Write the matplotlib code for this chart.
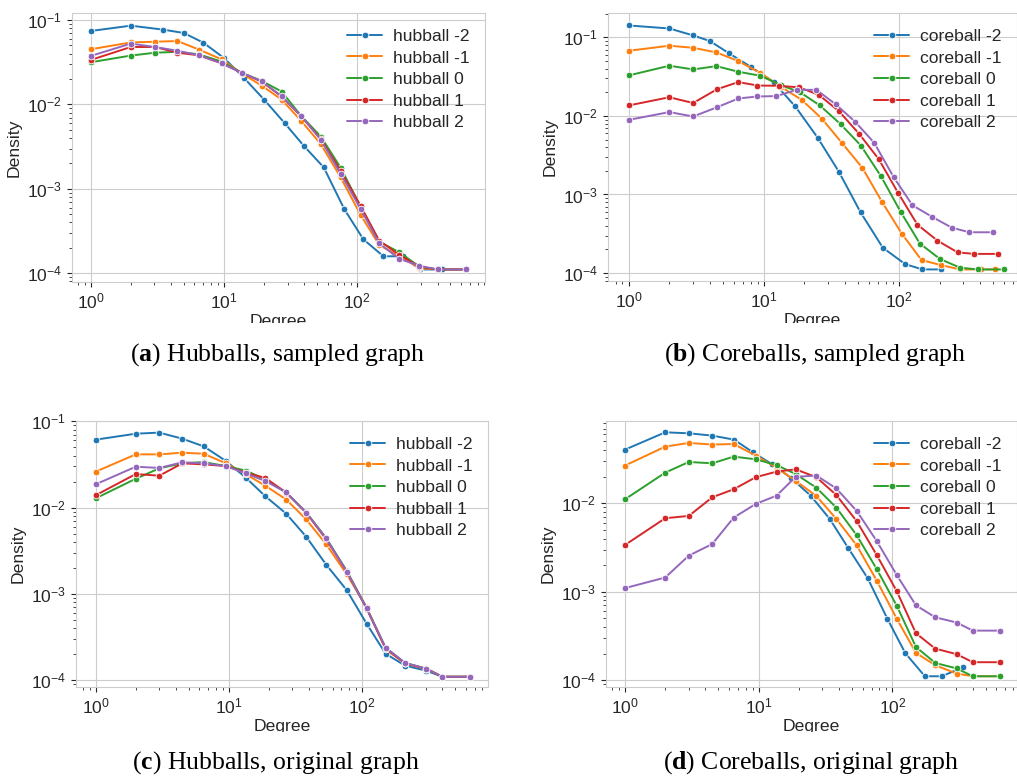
import numpy as np
import matplotlib
matplotlib.use("Agg")
import matplotlib.pyplot as plt
import seaborn as sns
from matplotlib.patches import Rectangle

sns.set_style("whitegrid")
plt.rcParams['font.family'] = ['Liberation Sans', 'DejaVu Sans']
plt.rcParams['mathtext.fontset'] = 'custom'
plt.rcParams['mathtext.rm'] = 'Liberation Serif'
plt.rcParams['mathtext.bf'] = 'Liberation Serif:bold'

# ---- data ----
levels = ["-2", "-1", "0", "1", "2"]

# (a) hubballs, sampled graph
a_x_m2 = [1, 2, 3.5, 5, 7, 10, 14.1, 20, 28.5, 40, 56, 80, 111, 157, 222, 294, 429]
a_y_m2 = [0.0741, 0.0857, 0.0769, 0.0702, 0.0539, 0.0355, 0.0207, 0.0114, 0.00602, 0.00319,
          0.00180, 0.000573, 0.000253, 0.000159, 0.000159, 0.000111, 0.000111]
a_x = [1, 2, 3.04, 4.47, 6.5, 9.6, 13.7, 19.2, 27.1, 37.8, 53.4, 75, 106, 146, 207, 292, 400, 653]
a_y_m1 = [0.0450, 0.0543, 0.0553, 0.0564, 0.0446, 0.0342, 0.0231, 0.0167, 0.0114, 0.00643,
          0.00337, 0.00137, 0.000491, 0.000216, 0.000160, 0.000115, 0.000111, 0.000111]
a_y_0 = [0.0316, 0.0379, 0.0410, 0.0420, 0.0392, 0.0321, 0.0236, 0.0190, 0.0142, 0.00736,
         0.00415, 0.00178, 0.000615, 0.000237, 0.000177, 0.000120, 0.000111, 0.000111]
a_y_1 = [0.0336, 0.0479, 0.0479, 0.0410, 0.0382, 0.0307, 0.0236, 0.0186, 0.0124, 0.00729,
         0.00387, 0.00164, 0.000627, 0.000244, 0.000165, 0.000120, 0.000111, 0.000111]
a_y_2 = [0.0375, 0.0525, 0.0479, 0.0433, 0.0382, 0.0307, 0.0236, 0.0188, 0.0125, 0.00736,
         0.00379, 0.00151, 0.000578, 0.000226, 0.000148, 0.000123, 0.000111, 0.000111]

# (b) coreballs, sampled graph
b_x_m2 = [1, 2, 3, 4, 5.5, 8, 11.8, 17.1, 25, 36, 52, 76, 111, 149, 205]
b_y_m2 = [0.142, 0.130, 0.106, 0.0898, 0.0631, 0.0423, 0.027, 0.0132, 0.00531, 0.00194,
          0.000593, 0.000210, 0.000130, 0.000111, 0.000111]
b_x_m1 = [1, 2, 3, 4.46, 6.49, 9.45, 13.5, 19.1, 27, 38, 53.5, 75.3, 105, 147, 205, 283, 407, 517]
b_y_m1 = [0.0676, 0.0784, 0.0738, 0.0644, 0.0499, 0.0351, 0.0233, 0.0160, 0.00918, 0.00450,
          0.00220, 0.000796, 0.000317, 0.000146, 0.000126, 0.000111, 0.000111, 0.000111]
b_x_0 = [1, 2, 3, 4.46, 6.49, 9.45, 13.3, 18.5, 26, 37, 52.3, 73.6, 103.5, 143, 201, 283, 383, 603]
b_y_0 = [0.0328, 0.0436, 0.0391, 0.0431, 0.0365, 0.0325, 0.0247, 0.0201, 0.0136, 0.00785,
         0.00420, 0.00171, 0.000593, 0.000237, 0.000151, 0.000117, 0.000111, 0.000111]
b_x_1 = [1, 2, 3, 4.51, 6.49, 8.98, 13, 18.3, 25.5, 36, 50.8, 71, 98.9, 137, 193, 272, 361, 544]
b_y_1 = [0.0136, 0.0173, 0.0146, 0.0219, 0.0270, 0.0244, 0.0242, 0.0231, 0.0186, 0.0115,
         0.00591, 0.00281, 0.00104, 0.000413, 0.000258, 0.000183, 0.000175, 0.000175]
b_x_2 = [1, 2, 3, 4.51, 6.49, 8.98, 12.4, 17.5, 24.5, 34, 47.5, 65.7, 91.3, 126, 177, 246, 332, 500]
b_y_2 = [0.00891, 0.0112, 0.00984, 0.0129, 0.0167, 0.0177, 0.0179, 0.0215, 0.0215, 0.0141,
         0.00841, 0.00454, 0.00167, 0.000728, 0.000516, 0.000378, 0.000330, 0.000330]

# (c) hubballs, original graph
c_x = [1, 2, 3, 4.47, 6.46, 9.5, 13.4, 18.8, 26.9, 38, 53.7, 76.7, 108, 150, 210, 304, 400, 642]
c_y_m2 = [0.0613, 0.0719, 0.0740, 0.0629, 0.0513, 0.0347, 0.0222, 0.0135, 0.00850, 0.00460,
          0.00218, 0.00110, 0.000451, 0.000202, 0.000147, 0.000128, 0.000109, 0.000109]
c_y_m1 = [0.0261, 0.0414, 0.0414, 0.0433, 0.0421, 0.0326, 0.0243, 0.0179, 0.0124, 0.00731,
          0.00375, 0.00168, 0.000697, 0.000227, 0.000156, 0.000134, 0.000109, 0.000109]
c_y_0 = [0.0128, 0.0216, 0.0285, 0.0326, 0.0337, 0.0303, 0.0268, 0.0212, 0.0150, 0.00881,
         0.00444, 0.00184, 0.000690, 0.000237, 0.000158, 0.000135, 0.000109, 0.000109]
c_y_1 = [0.0139, 0.0245, 0.0234, 0.0326, 0.0317, 0.0303, 0.0254, 0.0220, 0.0149, 0.00873,
         0.00428, 0.00181, 0.000673, 0.000233, 0.000156, 0.000135, 0.000109, 0.000109]
c_y_2 = [0.0186, 0.0298, 0.0288, 0.0335, 0.0326, 0.0303, 0.0249, 0.0203, 0.0150, 0.00873,
         0.00440, 0.00180, 0.000680, 0.000237, 0.000158, 0.000135, 0.000109, 0.000109]

# (d) coreballs, original graph
d_x_m2 = [1, 2, 3, 4.5, 6.54, 9.07, 12.5, 17.5, 24.6, 34, 46.9, 65.4, 91.8, 125, 175, 234, 336]
d_y_m2 = [0.0404, 0.0634, 0.0618, 0.0582, 0.0524, 0.0377, 0.0278, 0.0193, 0.0121, 0.00665,
          0.00310, 0.00142, 0.000494, 0.000202, 0.000111, 0.000111, 0.000140]
d_x = [1, 2, 3, 4.5, 6.5, 9.5, 13.6, 18.9, 27, 38.1, 54.1, 76.3, 108, 150, 209, 303, 399, 639]
d_y_m1 = [0.0267, 0.0437, 0.0481, 0.0461, 0.0468, 0.0346, 0.0253, 0.0179, 0.0121, 0.00665,
          0.00335, 0.00134, 0.000494, 0.000204, 0.000148, 0.000119, 0.000111, 0.000111]
d_y_0 = [0.0111, 0.0222, 0.0293, 0.0283, 0.0337, 0.0314, 0.0271, 0.0214, 0.0150, 0.00893,
         0.00435, 0.00181, 0.000692, 0.000238, 0.000157, 0.000136, 0.000111, 0.000111]
d_y_1 = [0.00338, 0.00678, 0.00720, 0.0117, 0.0144, 0.0197, 0.0228, 0.0242, 0.0197, 0.0124,
         0.00627, 0.00261, 0.00101, 0.000340, 0.000228, 0.000197, 0.000160, 0.000160]
d_y_2 = [0.00110, 0.00145, 0.00256, 0.00347, 0.00689, 0.00983, 0.0122, 0.0199, 0.0206, 0.0147,
         0.00819, 0.00375, 0.00154, 0.000703, 0.000515, 0.000449, 0.000364, 0.000364]

captions = [r"($\mathbf{a}$) Hubballs, sampled graph",
            r"($\mathbf{b}$) Coreballs, sampled graph",
            r"($\mathbf{c}$) Hubballs, original graph",
            r"($\mathbf{d}$) Coreballs, original graph"]

panels = [
    ("hubball", [(a_x_m2, a_y_m2), (a_x, a_y_m1), (a_x, a_y_0), (a_x, a_y_1), (a_x, a_y_2)]),
    ("coreball", [(b_x_m2, b_y_m2), (b_x_m1, b_y_m1), (b_x_0, b_y_0), (b_x_1, b_y_1), (b_x_2, b_y_2)]),
    ("hubball", [(c_x, c_y_m2), (c_x, c_y_m1), (c_x, c_y_0), (c_x, c_y_1), (c_x, c_y_2)]),
    ("coreball", [(d_x_m2, d_y_m2), (d_x, d_y_m1), (d_x, d_y_0), (d_x, d_y_1), (d_x, d_y_2)]),
]

W, H = 1017, 778
fig = plt.figure(figsize=(W / 100, H / 100), dpi=100)


def rect(l, t, r, b):
    return [l / W, 1 - b / H, (r - l) / W, (b - t) / H]


boxes = [rect(72, 13, 485, 282), rect(608, 13, 1017, 281),
         rect(76, 421, 488, 687), rect(606, 421, 1017, 687)]
xlims = [(10**-0.140, 10**2.958), (10**-0.153, 10**2.874),
         (10**-0.148, 10**2.945), (10**-0.142, 10**2.932)]
ylims = [(10**-4.103, 10**-0.917), (10**-4.102, 10**-0.689),
         (10**-4.081, 10**-0.996), (10**-4.076, 10**-1.070)]
colors = plt.cm.tab10.colors
fs = 12.6

for i, (name, series) in enumerate(panels):
    ax = fig.add_axes(boxes[i])
    for j, (xs, ys) in enumerate(series):
        ax.plot(xs, ys, marker='o', ms=4.8, mec='white', mew=0.6, lw=1.4,
                color=colors[j], label=name + " " + levels[j])
    ax.set_xscale('log')
    ax.set_yscale('log')
    ax.set_xlim(*xlims[i])
    ax.set_ylim(*ylims[i])
    ax.set_xlabel("Degree", fontsize=fs, labelpad=1.5)
    ax.set_ylabel("Density", fontsize=fs)
    ax.tick_params(labelsize=fs, bottom=True, left=True)
    ax.tick_params(which='major', length=3.5, width=0.8, color='.15')
    ax.tick_params(which='minor', bottom=True, left=True, length=2.2, width=0.6, color='.15')
    ax.legend(loc='upper right', frameon=False, fontsize=fs, labelspacing=0.36,
              handletextpad=0.6)

# the panels were cropped just below the x label
for y0, y1 in [(323, 338), (732, 746)]:
    fig.add_artist(Rectangle((0, 1 - y1 / H), 1, (y1 - y0) / H, transform=fig.transFigure,
                             facecolor='white', edgecolor='none', zorder=10))

cap_pos = [(277, 355), (815, 355), (276, 763), (811, 763)]
for (cx, cy), txt in zip(cap_pos, captions):
    fig.text(cx / W, 1 - cy / H, txt, ha='center', va='center', fontsize=18.5,
             family='Liberation Serif', color='black', zorder=11)

plt.savefig("out.png", dpi=100)
